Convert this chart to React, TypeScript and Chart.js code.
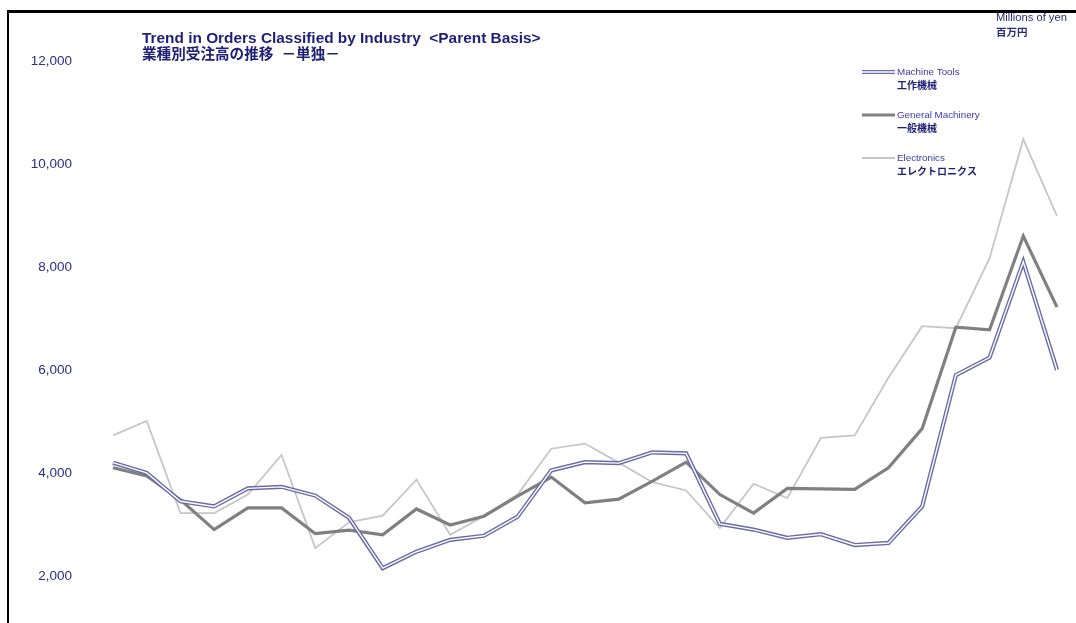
import React, { useEffect, useRef } from "react";
import { Chart, registerables } from "chart.js";

Chart.register(...registerables);

// ---- Data ----
const periods = [
  "1", "2", "3", "4", "5", "6", "7", "8", "9", "10",
  "11", "12", "13", "14", "15", "16", "17", "18", "19", "20",
  "21", "22", "23", "24", "25", "26", "27", "28", "29",
];

const machineTools = [
  4200, 4000, 3450, 3350, 3700, 3730, 3560, 3130, 2150, 2470,
  2700, 2780, 3150, 4050, 4210, 4190, 4400, 4380, 3010, 2900,
  2740, 2810, 2600, 2640, 3350, 5900, 6240, 8100, 6000,
];

const generalMachinery = [
  4100, 3940, 3480, 2900, 3320, 3320, 2820, 2890, 2800, 3300,
  2990, 3160, 3550, 3920, 3420, 3490, 3840, 4210, 3580, 3220,
  3700, 3690, 3680, 4100, 4860, 6830, 6780, 8600, 7220,
];

const electronics = [
  4730, 5010, 3220, 3220, 3580, 4350, 2540, 3040, 3170, 3870,
  2800, 3160, 3580, 4470, 4570, 4200, 3820, 3660, 2930, 3790,
  3510, 4680, 4730, 5850, 6850, 6810, 8170, 10480, 8990,
];

const yMin = 0;
const yMax = 12000;
const yStep = 2000;

const seriesEn = ["Machine Tools", "General Machinery", "Electronics"];
const seriesJa = ["工作機械", "一般機械", "エレクトロニクス"];
const titleEn = "Trend in Orders Classified by Industry  <Parent Basis>";
const titleJa = "業種別受注高の推移  －単独－";
const unitEn = "Millions of yen";
const unitJa = "百万円";

// ---- Styles ----
const NAVY = "#1e1e78";
const TICK_NAVY = "#2c2c8c";
const LEGEND_BLUE = "#3a3ab4";
const MT_COLOR = "#6a6aa8";
const GM_COLOR = "#808080";
const EL_COLOR = "#c6c6c6";
const LATIN = "'Liberation Sans', Arial, 'Noto Sans CJK JP', sans-serif";
const CJK = "'Liberation Sans', 'Noto Sans CJK JP', sans-serif";

const CANVAS_W = 1076;
const CANVAS_H = 720;

const doubleLinePlugin = {
  id: "doubleLine",
  afterDatasetDraw(chart: any, args: any) {
    if (args.index !== 0) return;
    const pts = args.meta.data;
    const ctx = chart.ctx;
    ctx.save();
    ctx.strokeStyle = "#ffffff";
    ctx.lineWidth = 1.4;
    ctx.lineJoin = "miter";
    ctx.beginPath();
    pts.forEach((p: any, i: number) => {
      if (i === 0) ctx.moveTo(p.x, p.y);
      else ctx.lineTo(p.x, p.y);
    });
    ctx.stroke();
    ctx.restore();
  },
};

const textPlugin = {
  id: "texts",
  afterDraw(chart: any) {
    const ctx = chart.ctx;
    ctx.save();
    ctx.textAlign = "left";

    // Title
    ctx.fillStyle = NAVY;
    ctx.textBaseline = "alphabetic";
    ctx.font = `bold 15.4px ${LATIN}`;
    ctx.fillText(titleEn, 142, 43);
    ctx.textBaseline = "middle";
    ctx.font = `bold 14.6px ${CJK}`;
    ctx.fillText(titleJa, 142, 55);

    // Units
    ctx.fillStyle = "#2a2a7c";
    ctx.font = `11.2px ${LATIN}`;
    ctx.fillText(unitEn, 996, 18);
    ctx.font = `bold 10.5px ${CJK}`;
    ctx.fillText(unitJa, 996, 33);

    // Legend
    const ys = [72, 115, 158];
    chart.data.datasets.forEach((ds: any, i: number) => {
      const y = ys[i];
      ctx.beginPath();
      ctx.strokeStyle = ds.borderColor;
      ctx.lineWidth = ds.borderWidth;
      ctx.moveTo(862, y);
      ctx.lineTo(895, y);
      ctx.stroke();
      if (i === 0) {
        ctx.beginPath();
        ctx.strokeStyle = "#ffffff";
        ctx.lineWidth = 1.4;
        ctx.moveTo(862, y);
        ctx.lineTo(895, y);
        ctx.stroke();
      }
      ctx.fillStyle = LEGEND_BLUE;
      ctx.font = `9.8px ${LATIN}`;
      ctx.fillText(seriesEn[i], 897, y);
      ctx.fillStyle = NAVY;
      ctx.font = `bold 10px ${CJK}`;
      ctx.fillText(seriesJa[i], 897, y + 14);
    });
    ctx.restore();
  },
};

export default function App() {
  const canvasRef = useRef<HTMLCanvasElement | null>(null);

  useEffect(() => {
    if (!canvasRef.current) return;
    const chart = new Chart(canvasRef.current, {
      type: "line",
      data: {
        labels: periods,
        datasets: [
          {
            label: seriesEn[0],
            data: machineTools,
            borderColor: MT_COLOR,
            borderWidth: 4.2,
            pointRadius: 0,
            tension: 0,
            fill: false,
          },
          {
            label: seriesEn[1],
            data: generalMachinery,
            borderColor: GM_COLOR,
            borderWidth: 3.2,
            pointRadius: 0,
            tension: 0,
            fill: false,
          },
          {
            label: seriesEn[2],
            data: electronics,
            borderColor: EL_COLOR,
            borderWidth: 1.8,
            pointRadius: 0,
            tension: 0,
            fill: false,
          },
        ],
      },
      options: {
        responsive: true,
        maintainAspectRatio: false,
        animation: false,
        events: [],
        layout: { padding: { top: 61, bottom: 0, left: 0, right: 19 } },
        plugins: {
          legend: { display: false },
          title: { display: false },
          tooltip: { enabled: false },
        },
        scales: {
          x: {
            display: false,
            offset: false,
          },
          y: {
            min: yMin,
            max: yMax,
            grid: { display: false },
            border: { display: false },
            afterFit: (scale: any) => {
              scale.width = 113;
            },
            ticks: {
              stepSize: yStep,
              padding: 33,
              color: TICK_NAVY,
              font: { family: LATIN, size: 13.5 },
              callback: (v: any) => Number(v).toLocaleString("en-US"),
            },
          },
        },
      },
      plugins: [doubleLinePlugin, textPlugin],
    });
    return () => chart.destroy();
  }, []);

  return (
    <div
      style={{
        position: "fixed",
        left: 0,
        top: 0,
        width: 1076,
        height: 623,
        overflow: "hidden",
        background: "#ffffff",
      }}
    >
      <div
        style={{
          position: "absolute",
          left: 7,
          top: 10,
          width: 1200,
          height: 800,
          borderLeft: "2px solid #000",
          borderTop: "3px solid #000",
        }}
      />
      <div
        style={{
          position: "absolute",
          left: 0,
          top: 0,
          width: CANVAS_W,
          height: CANVAS_H,
        }}
      >
        <canvas ref={canvasRef} />
      </div>
    </div>
  );
}
